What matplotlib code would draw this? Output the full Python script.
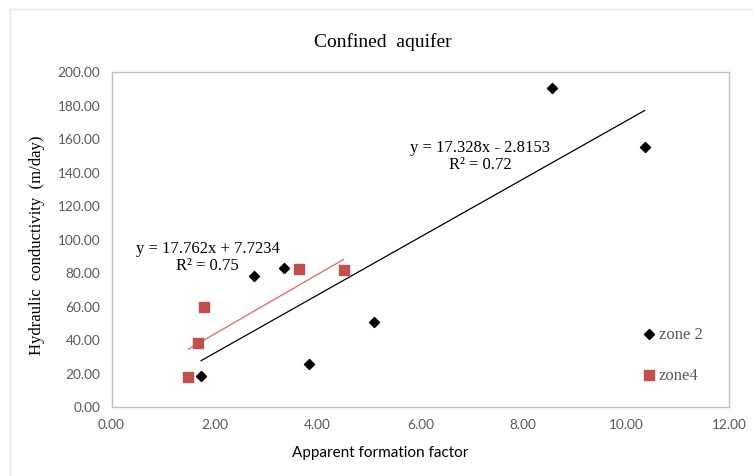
import matplotlib
matplotlib.use("Agg")
import matplotlib.pyplot as plt
import numpy as np
from matplotlib.lines import Line2D

# ---- data ----
zone2_x = [1.74, 2.77, 3.35, 3.83, 5.10, 8.57, 10.36]
zone2_y = [18.1, 78.0, 82.4, 25.1, 50.6, 190.4, 155.0]
zone4_x = [1.49, 1.69, 1.80, 3.65, 4.51]
zone4_y = [17.7, 38.2, 59.5, 82.0, 81.4]
zone2_fit = (17.328, -2.8153)
zone4_fit = (17.762, 7.7234)
zone2_eq = "y = 17.328x - 2.8153\nR² = 0.72"
zone4_eq = "y = 17.762x + 7.7234\nR² = 0.75"
x_ticks = [0, 2, 4, 6, 8, 10, 12]
y_ticks = [0, 20, 40, 60, 80, 100, 120, 140, 160, 180, 200]

W, H = 753, 477
fig = plt.figure(figsize=(W / 100, H / 100), dpi=100)
ax = fig.add_axes([111.5 / W, 1 - 407.5 / H, (729 - 111.5) / W, (407.5 - 72.5) / H])

serif = "Liberation Serif"
sans = "Lato"

ax.scatter(zone2_x, zone2_y, marker="D", s=26, color="black", zorder=3, label="zone 2")
ax.scatter(zone4_x, zone4_y, marker="s", s=55, color="#C0504D", zorder=3, label="zone4")

xs2 = np.array([min(zone2_x), max(zone2_x)])
ax.plot(xs2, zone2_fit[0] * xs2 + zone2_fit[1], color="black", lw=0.9, zorder=2)
xs4 = np.array([min(zone4_x), max(zone4_x)])
ax.plot(xs4, zone4_fit[0] * xs4 + zone4_fit[1], color="#D46A66", lw=0.9, zorder=2)

ax.text(7.17, 150, zone2_eq, ha="center", va="center", fontsize=12, family=serif,
        linespacing=1.05)
ax.text(1.87, 89.5, zone4_eq, ha="center", va="center", fontsize=12, family=serif,
        linespacing=1.05)

ax.set_xlim(0, 12)
ax.set_ylim(0, 200)
ax.set_xticks(x_ticks)
ax.set_yticks(y_ticks)
ax.set_xticklabels([f"{v:.2f}" for v in x_ticks])
ax.set_yticklabels([f"{v:.2f}" for v in y_ticks])
ax.tick_params(length=0, labelsize=9.8, labelcolor="#595959", pad=8)
for lbl in ax.get_xticklabels() + ax.get_yticklabels():
    lbl.set_family(sans)
for s in ax.spines.values():
    s.set_color("#BFBFBF")
    s.set_linewidth(1.0)

leg = ax.legend(loc="lower left", bbox_to_anchor=(0.851, 0.045), frameon=False,
                prop={"family": serif, "size": 12}, labelspacing=1.5,
                handlelength=0.5, handletextpad=0.3, borderpad=0,
                labelcolor="#595959")

fig.text(383 / W, 1 - 42 / H, "Confined  aquifer", ha="center", va="center",
         fontsize=14, family=serif)
fig.text(380 / W, 1 - 453 / H, "Apparent formation factor", ha="center", va="center",
         fontsize=11, family=sans)
fig.text(37 / W, 1 - 245 / H, "Hydraulic  conductivity  (m/day)", ha="center",
         va="center", rotation=90, fontsize=12, family=serif)

# outer chart border (top and left visible)
fig.add_artist(Line2D([10 / W, 1], [1 - 10 / H, 1 - 10 / H], color="#E6E6E6", lw=1,
                      transform=fig.transFigure))
fig.add_artist(Line2D([10 / W, 10 / W], [0, 1 - 10 / H], color="#E6E6E6", lw=1,
                      transform=fig.transFigure))

fig.savefig("out.png", dpi=100)
